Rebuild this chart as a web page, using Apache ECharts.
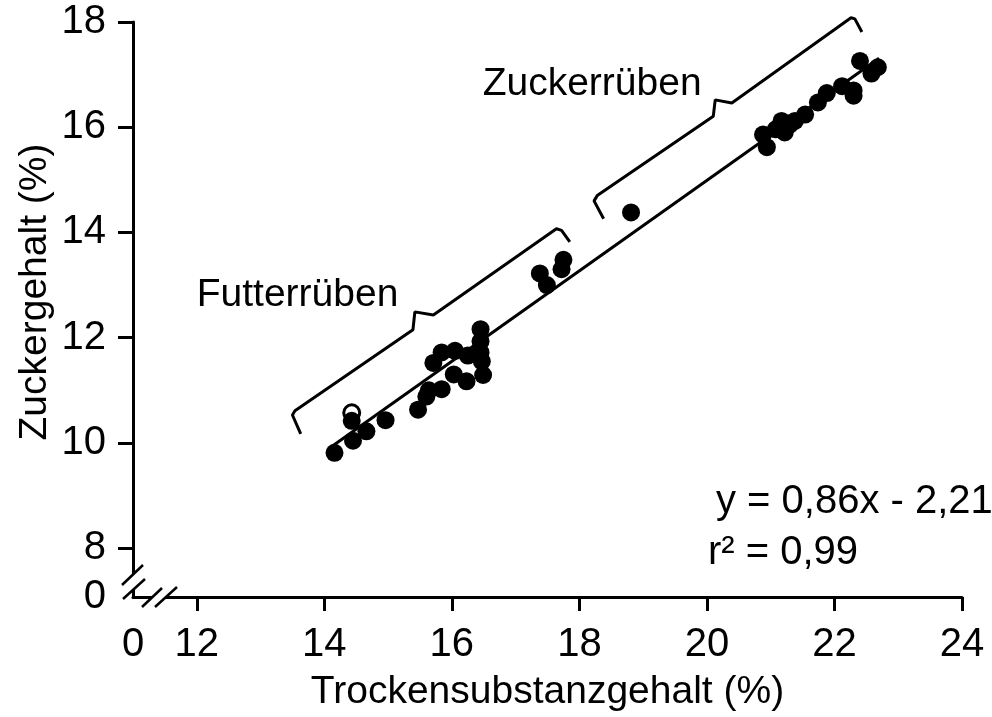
<!DOCTYPE html>
<html><head><meta charset="utf-8">
<script src="https://cdn.jsdelivr.net/npm/echarts@6/dist/echarts.min.js"></script>
<style>html,body{margin:0;padding:0;background:#fff}#c{width:992px;height:717px}</style>
</head><body><div id="c"></div>
<script>
// ---- data ----
const futterX = [14.16,14.45,14.43,14.66,14.96,15.47,15.60,15.64,15.84,15.71,15.84,16.05,16.03,16.23,16.25,16.45,16.45,16.45,16.47,16.49,17.38,17.49,17.75,17.72];
const futterY = [9.81,10.04,10.42,10.22,10.43,10.63,10.88,11.00,11.02,11.52,11.72,11.75,11.30,11.17,11.66,12.16,11.93,11.72,11.55,11.29,13.22,13.00,13.48,13.30];
const zuckerX = [18.81,20.88,20.94,21.08,21.17,21.22,21.30,21.38,21.54,21.74,21.88,22.12,22.30,22.30,22.40,22.58,22.68];
const zuckerY = [14.38,15.86,15.62,15.96,16.12,15.90,16.05,16.12,16.24,16.47,16.65,16.78,16.70,16.60,17.26,17.02,17.14];
const openX = [14.43];
const openY = [10.57];
// regression shown on the chart: y = 0,86x - 2,21
const regSlope = 0.86, regIntercept = -2.21;
const regXRange = [14.1, 22.7];
// braces (annotation outlines, data coordinates)
const futterBraceX = [13.63,13.50,13.54,15.39,15.42,15.71,17.64,17.72,17.85];
const futterBraceY = [10.17,10.53,10.61,12.15,12.49,12.43,14.07,14.04,13.82];
const zuckerBraceX = [18.38,18.23,18.28,20.10,20.13,20.39,22.26,22.32,22.43];
const zuckerBraceY = [14.26,14.60,14.70,16.21,16.52,16.46,18.08,18.06,17.81];
// group labels
const groupNames = ['Futterrüben','Zuckerrüben'];
const groupLabelX = [13.58, 18.20];
const groupLabelY = [12.80, 16.81];
// axes
const xTicks = [12,14,16,18,20,22,24];
const xBreakPos = 11;  // shown as "0"
const yTicks = [8,10,12,14,16,18];
const yBreakPos = 7.07; // shown as "0"
const xTitle = 'Trockensubstanzgehalt (%)';
const yTitle = 'Zuckergehalt (%)';
const eqText = 'y = 0,86x - 2,21';
const r2Text = 'r² = 0,99';

const FONT = "'Liberation Sans', Arial, sans-serif";
const zip = (a,b) => a.map((v,i)=>[v,b[i]]);

const chart = echarts.init(document.getElementById('c'), null, {renderer:'canvas'});
const option = {
  animation:false,
  backgroundColor:'#fff',
  grid:{left:133,right:30,top:22,bottom:117,containLabel:false},
  xAxis:{
    type:'value', min:xBreakPos, max:24,
    axisLine:{show:true,onZero:false,lineStyle:{color:'#000',width:3}},
    axisTick:{show:true,customValues:xTicks,length:14,lineStyle:{color:'#000',width:3}},
    axisLabel:{customValues:[xBreakPos].concat(xTicks),formatter:v=> v===xBreakPos?'0':String(v),
      color:'#000',fontFamily:FONT,fontSize:40,margin:28},
    splitLine:{show:false},
    name:xTitle,nameLocation:'middle',nameGap:76,
    nameTextStyle:{color:'#000',fontFamily:FONT,fontSize:39}
  },
  yAxis:{
    type:'value', min:yBreakPos, max:18,
    axisLine:{show:true,onZero:false,lineStyle:{color:'#000',width:3}},
    axisTick:{show:true,customValues:yTicks,length:15,lineStyle:{color:'#000',width:3}},
    axisLabel:{customValues:[yBreakPos].concat(yTicks),formatter:v=> v===yBreakPos?'0':String(v),
      color:'#000',fontFamily:FONT,fontSize:40,margin:27},
    splitLine:{show:false}
  },
  series:[
    {type:'line',data:zip(futterBraceX,futterBraceY),symbol:'none',clip:false,
      lineStyle:{color:'#000',width:3},z:2,silent:true},
    {type:'line',data:zip(zuckerBraceX,zuckerBraceY),symbol:'none',clip:false,
      lineStyle:{color:'#000',width:3},z:2,silent:true},
    {type:'line',data:regXRange.map(x=>[x,regSlope*x+regIntercept]),symbol:'none',
      lineStyle:{color:'#000',width:3},z:3},
    {type:'scatter',data:zip(openX,openY),symbol:'circle',symbolSize:16,
      itemStyle:{color:'#fff',borderColor:'#000',borderWidth:3,opacity:1},z:4},
    {type:'scatter',data:zip(futterX,futterY).concat(zip(zuckerX,zuckerY)),symbol:'circle',symbolSize:18,
      itemStyle:{color:'#000',opacity:1},z:5}
  ]
};
chart.setOption(option);

function drawExtras(){
  const c = chart.convertToPixel({gridIndex:0},[xBreakPos,yBreakPos]);
  const cx=c[0], cy=c[1];
  const seg=(x1,y1,x2,y2)=>({type:'line',z:100,shape:{x1:cx+x1,y1:cy+y1,x2:cx+x2,y2:cy+y2},style:{stroke:'#000',lineWidth:2.5}});
  const poly=(pts)=>({type:'polygon',z:99,shape:{points:pts.map(p=>[cx+p[0],cy+p[1]])},style:{fill:'#fff'}});
  const groupTexts = groupNames.map((n,i)=>{
    const p = chart.convertToPixel({gridIndex:0},[groupLabelX[i],groupLabelY[i]]);
    return {type:'text',z:100,x:p[0],y:p[1],
      style:{text:n,font:'39px '+FONT,fill:'#000',align:'center',verticalAlign:'middle'}};
  });
  chart.setOption({graphic:[
    poly([[-11,-12],[10,-32],[12,-18],[-10,2]]),
    seg(-11,-12,10,-32), seg(-10,2,12,-18),
    poly([[9,10],[29,-9],[44,-10],[22,10]]),
    seg(9,10,29,-9), seg(22,10,44,-10),
    {type:'text',z:100,x:35,y:292,rotation:Math.PI/2,
      style:{text:yTitle,font:'39px '+FONT,fill:'#000',align:'center',verticalAlign:'middle'}},
    {type:'text',z:100,x:716,y:502,
      style:{text:eqText,font:'40px '+FONT,fill:'#000',align:'left',verticalAlign:'middle'}},
    {type:'text',z:100,x:708,y:553,
      style:{text:r2Text,font:'40px '+FONT,fill:'#000',align:'left',verticalAlign:'middle'}}
  ].concat(groupTexts)});
}
drawExtras();
</script>
</body></html>
